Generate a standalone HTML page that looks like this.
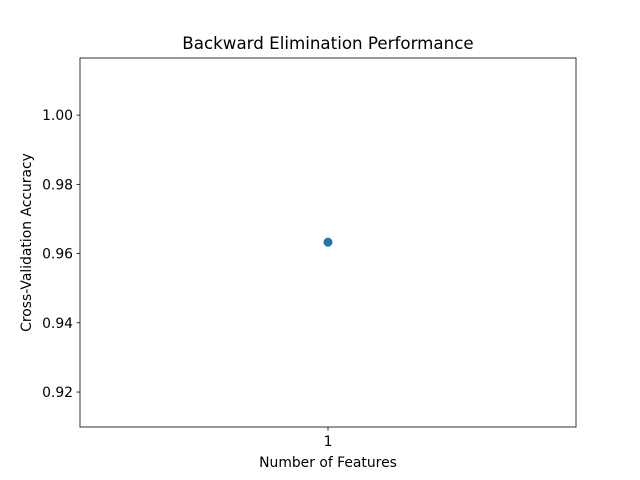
<!DOCTYPE html>
<html><head><meta charset="utf-8"><style>
body{margin:0;background:#fff;}
svg{display:block;font-family:"DejaVu Sans","Liberation Sans",sans-serif;}
</style></head><body>
<svg id="chart" width="640" height="480" viewBox="0 0 640 480">
<rect x="0" y="0" width="640" height="480" fill="#fff"/>
<text x="328" y="49" font-size="16.7" text-anchor="middle" fill="#000">Backward Elimination Performance</text>
<g id="yticks"></g>
<g id="xticks"></g>
<g id="points"></g>
<rect x="80" y="58" width="496" height="369" fill="none" stroke="#000" stroke-width="0.8"/>
<text x="328" y="467" font-size="13.9" text-anchor="middle">Number of Features</text>
<text transform="translate(31,242.5) rotate(-90)" font-size="13.9" text-anchor="middle">Cross-Validation Accuracy</text>
</svg>
<script>
const categories = [1];
const accuracy = [0.9633];
const yTickValues = [0.92, 0.94, 0.96, 0.98, 1.00];
const yTickLabels = ["0.92", "0.94", "0.96", "0.98", "1.00"];

const NS = "http://www.w3.org/2000/svg";
const L = 80, R = 576, T = 58, B = 427;
const yMin = 0.9099, yMax = 1.0165;
function yScale(v){ return B - (v - yMin) / (yMax - yMin) * (B - T); }
const xMin = Math.min(...categories) - 0.055, xMax = Math.max(...categories) + 0.055;
function xScale(v){ return L + (v - xMin) / (xMax - xMin) * (R - L); }

function mk(tag, attrs, parent){
  const e = document.createElementNS(NS, tag);
  for (const k in attrs) e.setAttribute(k, attrs[k]);
  parent.appendChild(e);
  return e;
}
const yg = document.getElementById('yticks');
yTickValues.forEach((v, i) => {
  const y = yScale(v);
  const t = mk('line', {x1: L - 3.5, x2: L, y1: y, y2: y, stroke: '#000', 'stroke-width': 0.8}, yg);
  
  
  const lb = mk('text', {x: L - 7, y: y + 5, 'font-size': 13.9, 'text-anchor': 'end'}, yg);
  lb.textContent = yTickLabels[i];
  
  
});
const xg = document.getElementById('xticks');
categories.forEach(c => {
  const x = xScale(c);
  const t = mk('line', {x1: x, x2: x, y1: B, y2: B + 3.5, stroke: '#000', 'stroke-width': 0.8}, xg);
  
  
  const lb = mk('text', {x: x, y: B + 19, 'font-size': 13.9, 'text-anchor': 'middle'}, xg);
  lb.textContent = String(c);
  
  
});
const pg = document.getElementById('points');
categories.forEach((c, i) => {
  const p = mk('circle', {cx: xScale(c), cy: yScale(accuracy[i]), r: 4.5, fill: '#1f77b4'}, pg);
  
  
});
</script>
</body></html>
